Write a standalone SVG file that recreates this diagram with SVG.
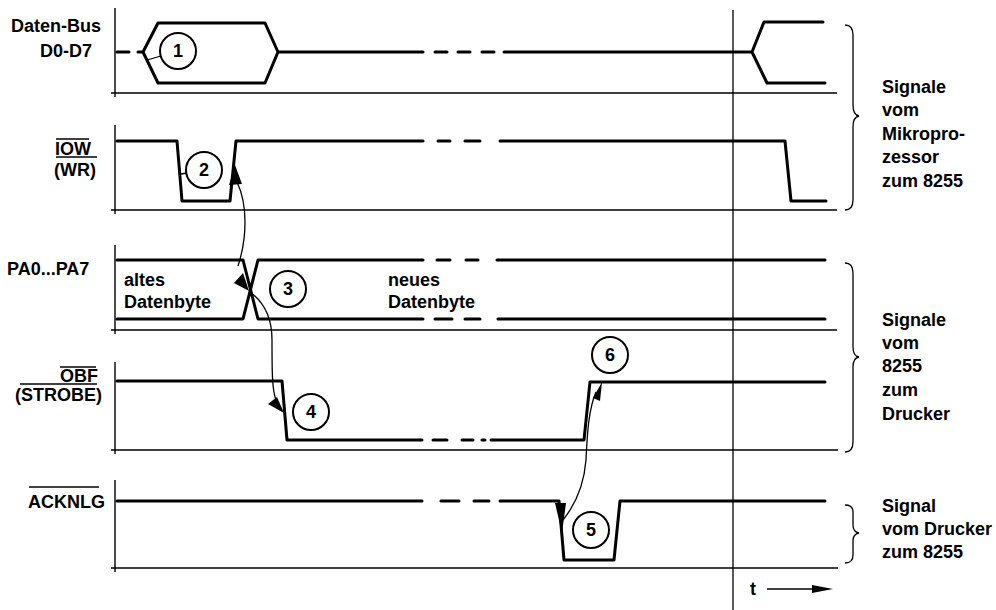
<svg xmlns="http://www.w3.org/2000/svg" width="996" height="610" viewBox="0 0 996 610">
<style>
.sig{fill:none;stroke:#000;stroke-width:3;stroke-linejoin:round;stroke-linecap:round}
.thin{fill:none;stroke:#000;stroke-width:1.4}
.ln{fill:none;stroke:#000;stroke-width:1.3}
.circ{fill:#fff;stroke:#000;stroke-width:2}
.t{font-family:"Liberation Sans",Arial,sans-serif;font-weight:bold;font-size:18px;fill:#000}
.n{font-family:"Liberation Sans",Arial,sans-serif;font-weight:bold;font-size:18px;fill:#000;text-anchor:middle}
.ah{fill:#000;stroke:none}
</style>
<rect width="996" height="610" fill="#fff"/>

<g id="axes">
<path class="thin" d="M115,8V97M111,93H837"/>
<path class="thin" d="M115,125V214M111,210H837"/>
<path class="thin" d="M115,245V334M111,330H837"/>
<path class="thin" d="M115,362V454M111,450H838"/>
<path class="thin" d="M115,480V572M111,568H838"/>
<path class="ln" d="M733,10V610"/>
</g>

<g id="databus">
<text class="t" x="11" y="32">Daten-Bus</text>
<text class="t" x="40" y="57">D0-D7</text>
<path class="sig" d="M117,52H129M138,52H143L158,23H265L278,52H423M143,52L158,83H265L278,52"/>
<path class="sig" d="M435,52H447M458,52H470M482,52H494M504,52H752L764,22H823M752,52L767,83H825"/>
<path class="ln" d="M147,60L161,56"/>
</g>

<g id="iow">
<text class="t" x="55" y="155">IOW</text>
<path class="ln" d="M56,139H89"/>
<text class="t" x="54" y="176">(WR)</text>
<path class="ln" d="M56,157H97"/>
<path class="sig" d="M117,141H177L182,201H230L236,141H423M438,141H450M465,141H480M500,141H785L791,201H826"/>
<path class="ln" d="M181,174L187,173"/>
</g>

<g id="pa">
<text class="t" x="7" y="275">PA0...PA7</text>
<path class="sig" d="M117,260H243L258,319H423M117,319H243L258,260H423"/>
<path class="sig" d="M437,260H450M466,260H478M497,260H825M435,319H452M465,319H480M498,319H825"/>
<text class="t" x="124" y="286">altes</text>
<text class="t" x="124" y="308">Datenbyte</text>
<text class="t" x="388" y="286">neues</text>
<text class="t" x="388" y="308">Datenbyte</text>
</g>

<g id="obf">
<text class="t" x="60" y="382">OBF</text>
<path class="ln" d="M60,367H96"/>
<path class="ln" d="M20,384H97"/>
<text class="t" x="15" y="401">(STROBE)</text>
<path class="sig" d="M117,381H282L287,440H422M433,440H447M462,440H473M482,440H485M491,440H584L590,382H825"/>
</g>

<g id="acknlg">
<text class="t" x="28" y="508">ACKNLG</text>
<path class="ln" d="M29,487H99"/>
<path class="sig" d="M117,501H422M441,501H459M474,501H489M500,501H559L564,560H614L620,501H825"/>
</g>

<g id="connectors">
<path class="ln" d="M237,182C248,205 247,238 238,266"/>
<polygon class="ah" points="235,165 229,185 242,184"/>
<polygon class="ah" points="249,291 234,283 243,273"/>
<path class="ln" d="M250,292C265,303 272,318 272,340C272,370 272,390 276,400"/>
<polygon class="ah" points="284,413 268,404 277,397"/>
<path class="ln" d="M596,392C588,410 587,440 586,460C584,485 575,505 563,520"/>
<polygon class="ah" points="602,382 593,398 600,401"/>
<polygon class="ah" points="562,533 555,503 566,503"/>
</g>

<g id="markers">
<circle class="circ" cx="178" cy="51" r="18"/><text class="n" x="178" y="57">1</text>
<circle class="circ" cx="204" cy="170" r="18"/><text class="n" x="204" y="176">2</text>
<circle class="circ" cx="288" cy="289" r="18"/><text class="n" x="288" y="295">3</text>
<circle class="circ" cx="311" cy="412" r="18"/><text class="n" x="311" y="418">4</text>
<circle class="circ" cx="591" cy="530" r="18"/><text class="n" x="591" y="536">5</text>
<circle class="circ" cx="610" cy="355" r="18"/><text class="n" x="610" y="361">6</text>
</g>

<g id="braces">
<path class="ln" d="M845,25Q853,25 853,35V105Q853,115 859,116Q853,117 853,127V200Q853,210 845,210"/>
<path class="ln" d="M845,263Q853,263 853,273V347Q853,356 859,357Q853,358 853,367V442Q853,452 845,452"/>
<path class="ln" d="M845,505Q853,505 853,512V525Q853,532 859,533Q853,534 853,541V555Q853,563 845,563"/>
</g>

<g id="labels">
<text class="t" x="882" y="93">Signale</text>
<text class="t" x="882" y="116">vom</text>
<text class="t" x="882" y="140">Mikropro-</text>
<text class="t" x="882" y="163">zessor</text>
<text class="t" x="882" y="187">zum 8255</text>
<text class="t" x="882" y="326">Signale</text>
<text class="t" x="882" y="349">vom</text>
<text class="t" x="882" y="372">8255</text>
<text class="t" x="882" y="396">zum</text>
<text class="t" x="882" y="420">Drucker</text>
<text class="t" x="882" y="512">Signal</text>
<text class="t" x="882" y="535">vom Drucker</text>
<text class="t" x="882" y="558">zum 8255</text>
</g>

<g id="time">
<text class="t" x="750" y="595">t</text>
<path class="ln" d="M767,589H815"/>
<polygon class="ah" points="833,589 812,585 812,593"/>
</g>
</svg>
